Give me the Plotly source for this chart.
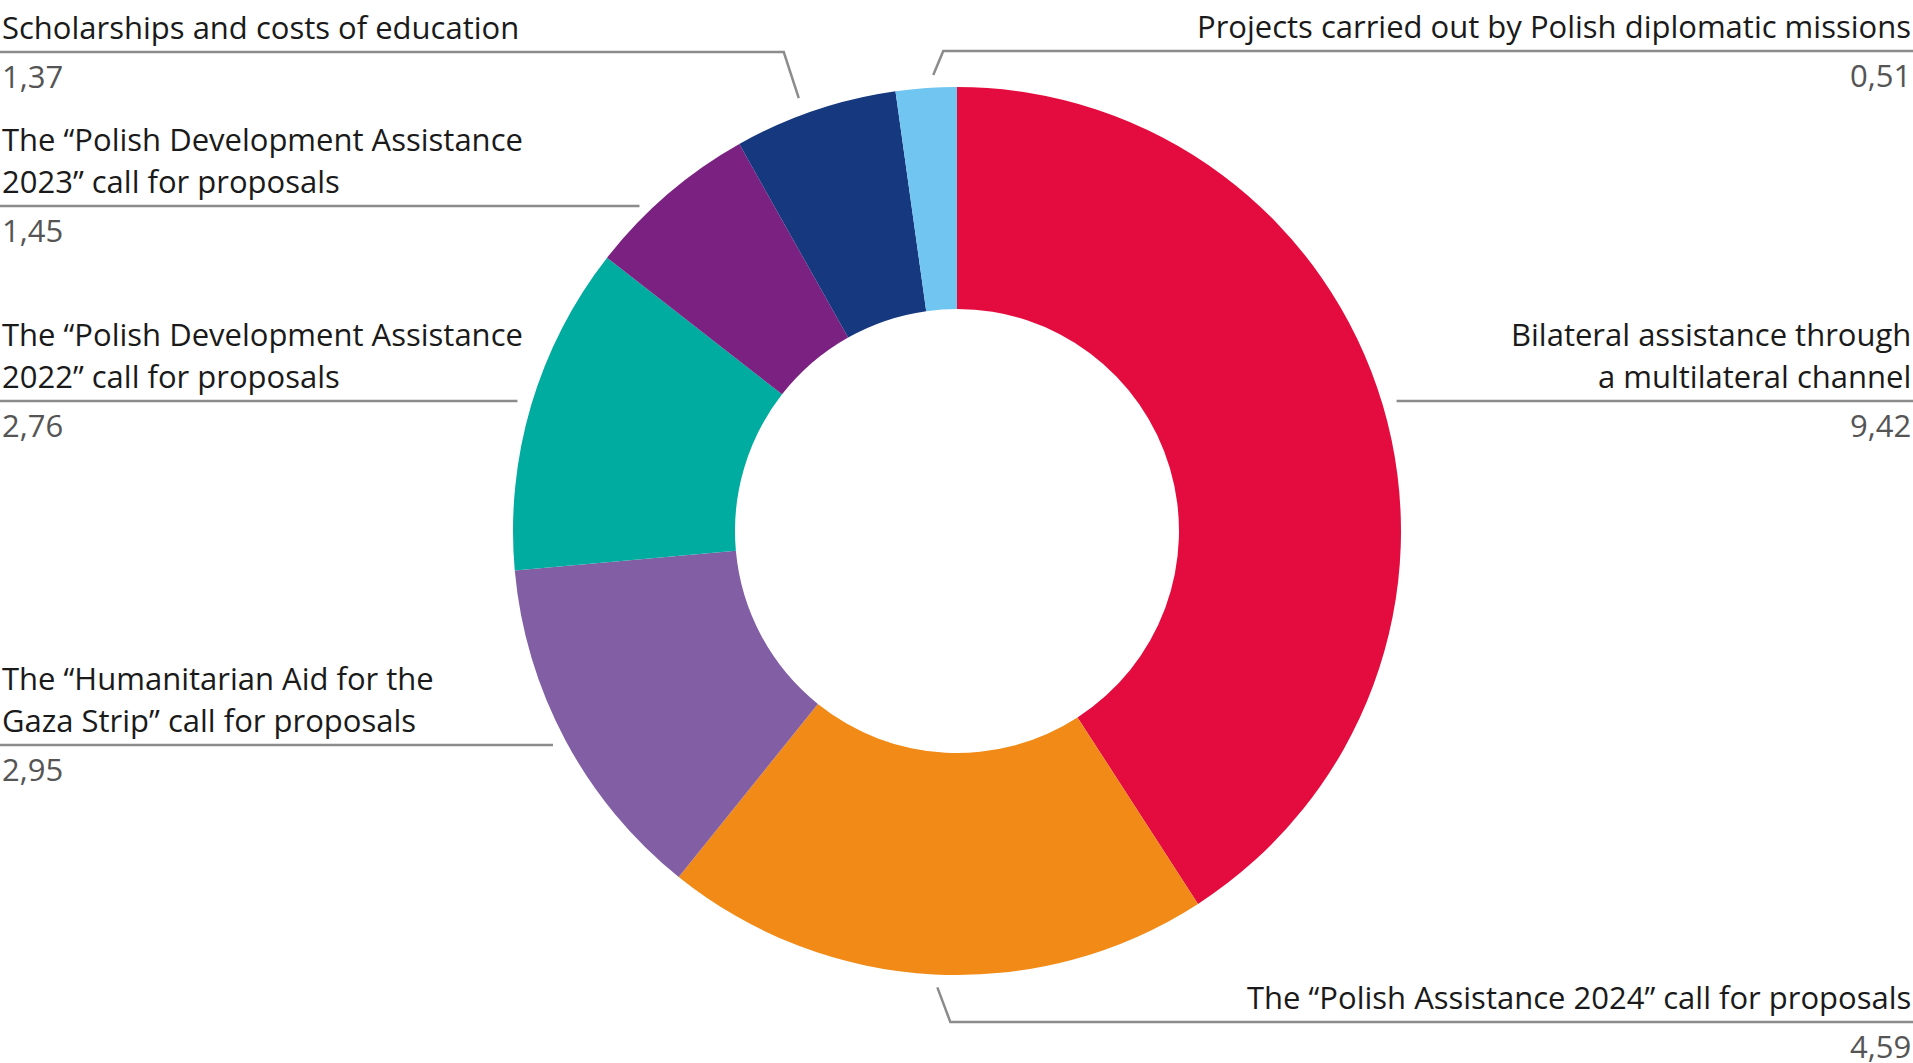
import math
import plotly.graph_objects as go

# data
labels = [
    "Bilateral assistance through<br>a multilateral channel",
    "The “Polish Assistance 2024” call for proposals",
    "The “Humanitarian Aid for the<br>Gaza Strip” call for proposals",
    "The “Polish Development Assistance<br>2022” call for proposals",
    "The “Polish Development Assistance<br>2023” call for proposals",
    "Scholarships and costs of education",
    "Projects carried out by Polish diplomatic missions",
]
values = [9.42, 4.59, 2.95, 2.76, 1.45, 1.37, 0.51]
colors = ["#E40C3E", "#F18A17", "#825EA5", "#00AB9F", "#7B2181", "#15387F", "#70C6F1"]

# layout, in pixels of the 1913x1063 page
W, H = 1913, 1063
CX, CY, R = 957, 531, 444
side = ["right", "right", "left", "left", "left", "left", "right"]
rule_y = [401, 1022, 745, 401, 206, 52, 51]
# for bent rules: nudge of the start point and x step of the bend
start_dx = [None, 4, None, None, None, -12, 8]
elbow_dx = [None, 13, None, None, None, -15, 10]
GAP = 15          # space between a plain rule and the ring
LINE_H = 42       # text line height
FONT = "Open Sans"
FS = 31


def px(x):
    return x / W


def py(y):
    return 1 - y / H


fig = go.Figure()
fig.add_trace(go.Pie(
    labels=labels,
    values=values,
    marker=dict(colors=colors, line=dict(width=0)),
    hole=0.5,
    sort=False,
    direction="clockwise",
    rotation=0,
    textinfo="none",
    hoverinfo="label+value",
    showlegend=False,
    domain=dict(x=[px(CX - R), px(CX + R)], y=[py(CY + R), py(CY - R)]),
))

total = sum(values)
shapes = []
annotations = []
start = 0.0
for i, v in enumerate(values):
    mid = (start + v / 2) / total * 2 * math.pi
    start += v
    y = rule_y[i]
    right = side[i] == "right"

    if elbow_dx[i] is not None:
        # rule leaves the ring near the slice's middle angle
        sx = CX + (R + 13) * math.sin(mid) + start_dx[i]
        sy = CY - (R + 13) * math.cos(mid)
        ex = sx + elbow_dx[i]
        path = "M %f %f L %f %f L %f %f" % (
            px(sx), py(sy), px(ex), py(y), px(W) if right else 0, py(y))
        shapes.append(dict(type="path", xref="paper", yref="paper", path=path,
                           line=dict(color="#8c8c8c", width=2.5)))
    else:
        dx = math.sqrt(max(R * R - (y - CY) ** 2, 0)) + GAP
        ex = CX + dx if right else CX - dx
        shapes.append(dict(type="line", xref="paper", yref="paper",
                           x0=px(ex), x1=1 if right else 0, y0=py(y), y1=py(y),
                           line=dict(color="#8c8c8c", width=2.5)))

    lines = labels[i].split("<br>")
    for k, t in enumerate(lines):
        cy = y - 25 - LINE_H * (len(lines) - 1 - k)
        annotations.append(dict(
            text=t, xref="paper", yref="paper", x=1 if right else 0, y=py(cy),
            xanchor="right" if right else "left", yanchor="middle",
            showarrow=False, font=dict(family=FONT, size=FS, color="#1a1a1a", weight=400)))
    annotations.append(dict(
        text=("%.2f" % v).replace(".", ","), xref="paper", yref="paper",
        x=1 if right else 0, y=py(y + 24),
        xanchor="right" if right else "left", yanchor="middle",
        showarrow=False, font=dict(family=FONT, size=FS, color="#555555", weight=400)))

fig.update_layout(
    width=W, height=H,
    margin=dict(l=0, r=0, t=0, b=0),
    paper_bgcolor="white",
    plot_bgcolor="white",
    shapes=shapes,
    annotations=annotations,
)

fig.write_html("out.html", config={"displayModeBar": False},
               post_script="document.body.style.margin = '0';")
